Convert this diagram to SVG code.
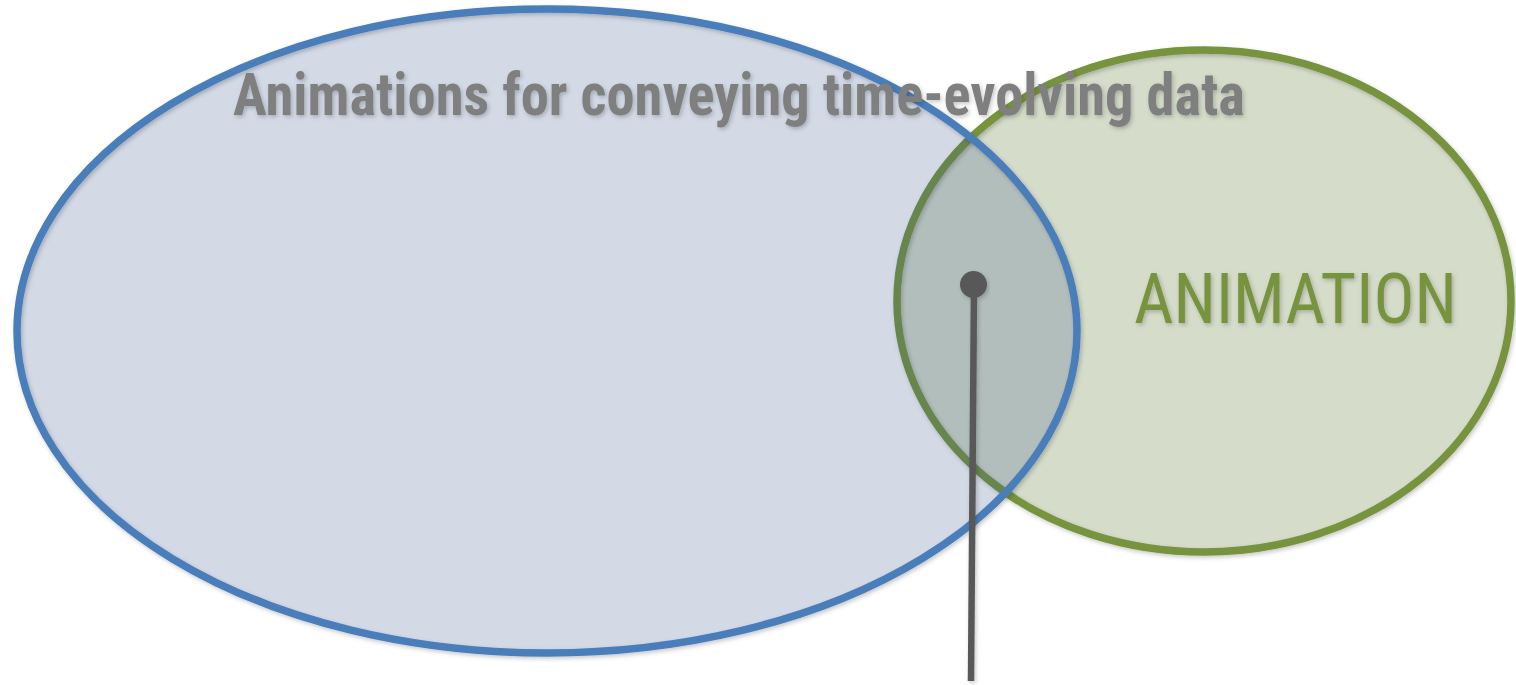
<svg xmlns="http://www.w3.org/2000/svg" width="1516" height="685" viewBox="0 0 1516 685">
  <defs>
    <filter id="shadow" x="-10%" y="-10%" width="120%" height="120%">
      <feDropShadow dx="1.5" dy="2" stdDeviation="2" flood-color="#000" flood-opacity="0.22"/>
    </filter>
    <style>
      .blue-fill { fill: #37568d; fill-opacity: 0.22; }
      .green-fill { fill: #40600e; fill-opacity: 0.22; }
      .blue-stroke { fill: none; stroke: #4a7ebb; stroke-width: 7.5; }
      .green-stroke { fill: none; stroke: #77933c; stroke-width: 7.5; }
      .title { font-family: "Roboto Condensed", Roboto, "Liberation Sans", sans-serif; font-weight: 700; font-stretch: condensed; font-size: 59px; fill: #7f7f7f; }
      .label { font-family: "Roboto Condensed", Roboto, "Liberation Sans", sans-serif; font-weight: 400; font-stretch: condensed; font-size: 70px; fill: #77933c; }
      .connector { stroke: #595959; stroke-width: 6.5; fill: none; }
      .dot { fill: #595959; }
    </style>
  </defs>
  <rect width="1516" height="685" fill="#ffffff"/>
  <g id="node-animation">
    <ellipse class="green-fill" cx="1204" cy="301" rx="307" ry="251"/>
    <ellipse class="green-stroke" cx="1204" cy="301" rx="307" ry="251" filter="url(#shadow)"/>
  </g>
  <g id="node-data-animations">
    <ellipse class="blue-fill" cx="547" cy="331" rx="530" ry="322"/>
    <ellipse class="blue-stroke" cx="547" cy="331" rx="530" ry="322" filter="url(#shadow)"/>
  </g>
  <g id="labels" filter="url(#shadow)">
    <text class="title" x="233" y="115" textLength="1012" lengthAdjust="spacingAndGlyphs">Animations for conveying time-evolving data</text>
    <text class="label" x="1134" y="323" textLength="323" lengthAdjust="spacingAndGlyphs">ANIMATION</text>
  </g>
  <g id="connectors" filter="url(#shadow)">
    <line class="connector" x1="974" y1="284" x2="971" y2="681"/>
    <circle class="dot" cx="973.5" cy="284.5" r="13.5"/>
  </g>
</svg>
